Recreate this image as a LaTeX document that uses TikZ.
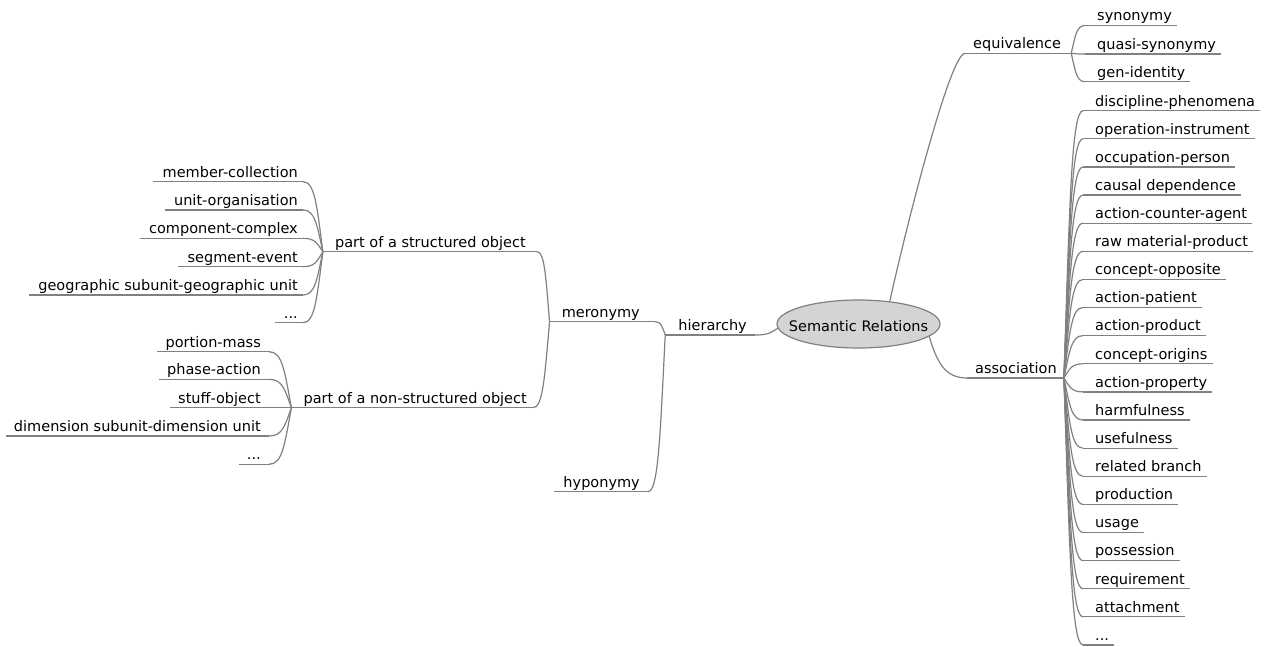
\documentclass[tikz,border=0pt]{standalone}
\usepackage{fontspec}
\setmainfont{DejaVu Sans}
\usetikzlibrary{calc,shapes.geometric}
\definecolor{ln}{RGB}{128,128,128}
\definecolor{rootfill}{RGB}{212,212,212}
\newcommand\mmdots{...}
% underline of a node: node, left pad, right pad
\newcommand\mmul[3]{\draw[conn] ([xshift=-#2]#1.south west) -- ([xshift=#3]#1.south east);}
% branch curve: from, to, fx1, fy1, fx2
\newcommand\mmfan[5]{\draw[conn] let \p1=#1, \p2=#2 in (\p1) .. controls ({\x1+#3*(\x2-\x1)},{\y1+#4*(\y2-\y1)}) and ({\x1+#5*(\x2-\x1)},\y2) .. (\p2);}
\begin{document}
\begin{tikzpicture}[x=1pt,y=-1pt,
  conn/.style={draw=ln,line width=1.2pt},
  t/.style={font=\fontsize{14.5}{17}\selectfont, inner sep=0pt, text height=11pt, text depth=4.5pt},
  L/.style={t,anchor=south east},
  R/.style={t,anchor=south west}]
\useasboundingbox (0,0) rectangle (1264,646);

% root
\node[ellipse, draw=ln, line width=1.2pt, fill=rootfill, minimum width=163pt, minimum height=48pt,
      inner sep=0pt, font=\fontsize{14.5}{17}\selectfont, text height=15pt, text depth=0pt]
      (root) at (858.5,324) {\makebox[0pt]{Semantic Relations}};

% first level
\node[L] (hier) at (747,335) {hierarchy};
\node[R] (eq) at (973,53.3) {equivalence};
\node[R] (as) at (975,378) {association};
% second level (left)
\node[L] (mer) at (640,321.7) {meronymy};
\node[L] (hyp) at (640,491.7) {hyponymy};
% third level (left)
\node[L] (ps) at (526,251.7) {part of a structured object};
\node[L] (pn) at (527,407.7) {part of a non-structured object};

% joints
\coordinate (jH) at ([xshift=-13pt]hier.south west);
\coordinate (jM) at ([xshift=-12pt]mer.south west);
\coordinate (jS) at ([xshift=-12pt]ps.south west);
\coordinate (jN) at ([xshift=-12pt]pn.south west);
\coordinate (jE) at ([xshift=10pt]eq.south east);
\coordinate (jA) at ([xshift=7pt]as.south east);

% underlines of inner nodes
\mmul{hier}{13pt}{8pt}
\mmul{eq}{8pt}{10pt}
\mmul{as}{8pt}{7pt}
\mmul{mer}{12pt}{15pt}
\mmul{hyp}{9pt}{8pt}
\mmul{ps}{12pt}{11pt}
\mmul{pn}{12pt}{6pt}

% branches between inner nodes
\mmfan{(root.183)}{([xshift=8pt]hier.south east)}{0.3}{0.65}{0.4}
\mmfan{(root.36)}{([xshift=-8pt]eq.south west)}{0.21}{0.29}{0.8}
\mmfan{(root.-10)}{([xshift=-8pt]as.south west)}{0.2}{0.6}{0.4}
\mmfan{(jH)}{([xshift=15pt]mer.south east)}{0.3}{0.65}{0.4}
\mmfan{(jH)}{([xshift=8pt]hyp.south east)}{0.3}{0.65}{0.4}
\mmfan{(jM)}{([xshift=11pt]ps.south east)}{0.3}{0.65}{0.4}
\mmfan{(jM)}{([xshift=6pt]pn.south east)}{0.3}{0.65}{0.4}

% leaves: part of a structured object
\foreach \txt/\yy [count=\i] in {member-collection/181.7, unit-organisation/210, component-complex/238.3,
    segment-event/266.7, geographic subunit-geographic unit/295, \mmdots/322.7}{
  \node[L] (s\i) at (298,\yy) {\txt};
  \mmul{s\i}{9pt}{5pt}
  \mmfan{(jS)}{([xshift=5pt]s\i.south east)}{0.3}{0.65}{0.4}
}
% leaves: part of a non-structured object
\foreach \txt/\yy [count=\i] in {portion-mass/351.7, phase-action/379.3, stuff-object/407.7,
    dimension subunit-dimension unit/436, \mmdots/464.3}{
  \node[L] (n\i) at (261,\yy) {\txt};
  \mmul{n\i}{8pt}{8pt}
  \mmfan{(jN)}{([xshift=8pt]n\i.south east)}{0.3}{0.65}{0.4}
}
% leaves: equivalence
\foreach \txt/\yy [count=\i] in {synonymy/25.5, quasi-synonymy/54, gen-identity/81.7}{
  \node[R] (e\i) at (1097,\yy) {\txt};
  \mmul{e\i}{12pt}{5pt}
  \mmfan{(jE)}{([xshift=-12pt]e\i.south west)}{0.3}{0.65}{0.4}
}
% leaves: association
\foreach \txt [count=\i] in {discipline-phenomena, operation-instrument, occupation-person,
    causal dependence, action-counter-agent, raw material-product, concept-opposite,
    action-patient, action-product, concept-origins, action-property, harmfulness,
    usefulness, related branch, production, usage, possession, requirement, attachment, \mmdots}{
  \node[R] (a\i) at (1095,{110.7+28.12*(\i-1)}) {\txt};
  \mmul{a\i}{12pt}{5pt}
  \mmfan{(jA)}{([xshift=-12pt]a\i.south west)}{0.3}{0.65}{0.4}
}
\end{tikzpicture}
\end{document}
